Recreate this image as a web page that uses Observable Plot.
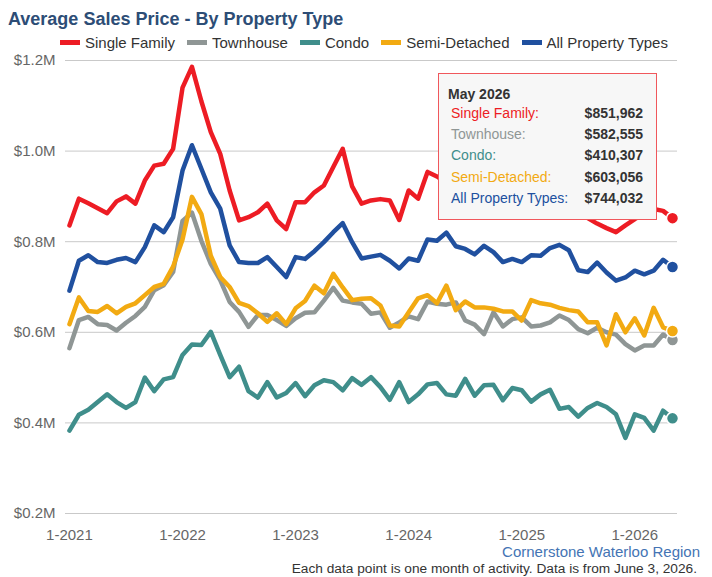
<!DOCTYPE html>
<html>
<head>
<meta charset="utf-8">
<script src="https://cdn.jsdelivr.net/npm/d3@7"></script>
<script src="https://cdn.jsdelivr.net/npm/@observablehq/plot@0.6"></script>
<style>
  body { margin: 0; background: #fff; font-family: "Liberation Sans", Arial, sans-serif; }
  #wrap { position: relative; width: 712px; height: 577px; overflow: hidden; }
  #title { position: absolute; left: 8px; top: 9px; font-size: 18px; font-weight: bold; color: #2d4d76; white-space: nowrap; }
  #legend { position: absolute; left: 60px; top: 34px; display: flex; align-items: center; font-size: 15px; color: #333; white-space: nowrap; }
  .item { display: flex; align-items: center; margin-right: 12px; }
  .sw { width: 20px; height: 5px; margin-right: 5px; }
  #chart { position: absolute; left: 0; top: 0; }
  #tip { position: absolute; left: 438px; top: 73px; width: 217px; height: 145px; border: 1px solid #f0575c; background: #f7f7f7; font-size: 14px; }
  .tl { position: absolute; line-height: 21px; white-space: nowrap; }
  #cap1 { position: absolute; right: 12px; top: 544px; font-size: 15px; line-height: 15px; color: #4474b4; white-space: nowrap; }
  #cap2 { position: absolute; right: 15px; top: 562px; font-size: 13.7px; line-height: 14px; color: #333; white-space: nowrap; }
</style>
</head>
<body>
<div id="wrap">
  <div id="chart"></div>
  <div id="title">Average Sales Price - By Property Type</div>
  <div id="legend"></div>
  <div id="tip"></div>
  <div id="cap1">Cornerstone Waterloo Region</div>
  <div id="cap2">Each data point is one month of activity. Data is from June 3, 2026.</div>
</div>
<script>
// ---- data (values in $ millions, monthly from Jan 2021 to May 2026) ----
const seriesNames = ["Single Family", "Townhouse", "Condo", "Semi-Detached", "All Property Types"];
const seriesColors = ["#ed1c24", "#8f9695", "#3f8e8b", "#f2aa12", "#20509f"];

const singleFamily = [
  0.836, 0.895, 0.885, 0.874, 0.863, 0.889, 0.900, 0.884, 0.935, 0.968, 0.972, 1.005, 1.140,
  1.186, 1.110, 1.042, 0.994, 0.913, 0.847, 0.854, 0.865, 0.884, 0.847, 0.828, 0.887, 0.887,
  0.909, 0.924, 0.965, 1.005, 0.922, 0.884, 0.891, 0.894, 0.891, 0.848, 0.913, 0.895, 0.954,
  0.944, 0.930, 0.950, 0.940, 0.920, 0.930, 0.910, 0.920, 0.900, 0.910, 0.920, 0.930, 0.910,
  0.900, 0.890, 0.870, 0.852, 0.840, 0.830, 0.821, 0.836, 0.850, 0.862, 0.872, 0.868, 0.852
];
const townhouse = [
  0.565, 0.627, 0.634, 0.618, 0.616, 0.604, 0.621, 0.636, 0.656, 0.693, 0.704, 0.733, 0.846,
  0.864, 0.802, 0.751, 0.715, 0.667, 0.645, 0.612, 0.638, 0.638, 0.627, 0.614, 0.631, 0.643,
  0.644, 0.670, 0.698, 0.670, 0.666, 0.663, 0.641, 0.644, 0.610, 0.622, 0.635, 0.629, 0.668,
  0.663, 0.661, 0.666, 0.626, 0.617, 0.596, 0.644, 0.613, 0.629, 0.633, 0.613, 0.615, 0.622,
  0.637, 0.627, 0.607, 0.598, 0.610, 0.600, 0.595, 0.574, 0.560, 0.571, 0.571, 0.595, 0.583
];
const condo = [
  0.383, 0.418, 0.429, 0.446, 0.463, 0.446, 0.433, 0.446, 0.500, 0.470, 0.496, 0.501, 0.550,
  0.573, 0.572, 0.601, 0.550, 0.501, 0.524, 0.470, 0.456, 0.490, 0.456, 0.466, 0.488, 0.459,
  0.483, 0.494, 0.490, 0.472, 0.499, 0.484, 0.501, 0.479, 0.451, 0.490, 0.446, 0.463, 0.485,
  0.488, 0.463, 0.460, 0.497, 0.460, 0.483, 0.484, 0.450, 0.477, 0.472, 0.447, 0.463, 0.473,
  0.431, 0.435, 0.414, 0.433, 0.444, 0.435, 0.419, 0.367, 0.419, 0.411, 0.383, 0.427, 0.410
];
const semiDetached = [
  0.618, 0.677, 0.647, 0.645, 0.658, 0.642, 0.656, 0.664, 0.682, 0.700, 0.707, 0.745, 0.805,
  0.899, 0.861, 0.769, 0.722, 0.700, 0.665, 0.658, 0.642, 0.623, 0.642, 0.618, 0.653, 0.669,
  0.703, 0.686, 0.729, 0.699, 0.671, 0.674, 0.675, 0.659, 0.615, 0.613, 0.644, 0.675, 0.682,
  0.664, 0.703, 0.649, 0.668, 0.655, 0.655, 0.652, 0.646, 0.646, 0.626, 0.671, 0.664, 0.661,
  0.654, 0.649, 0.646, 0.622, 0.622, 0.571, 0.640, 0.600, 0.631, 0.593, 0.654, 0.611, 0.603
];
const allTypes = [
  0.692, 0.758, 0.770, 0.755, 0.753, 0.760, 0.764, 0.755, 0.788, 0.836, 0.821, 0.854, 0.957,
  1.013, 0.961, 0.909, 0.873, 0.792, 0.755, 0.753, 0.753, 0.766, 0.744, 0.722, 0.766, 0.762,
  0.779, 0.799, 0.821, 0.841, 0.799, 0.763, 0.767, 0.771, 0.758, 0.741, 0.763, 0.758, 0.805,
  0.802, 0.820, 0.790, 0.784, 0.772, 0.791, 0.777, 0.755, 0.762, 0.755, 0.770, 0.769, 0.786,
  0.793, 0.781, 0.737, 0.733, 0.754, 0.732, 0.714, 0.721, 0.736, 0.728, 0.736, 0.760, 0.744
];
const seriesValues = [singleFamily, townhouse, condo, semiDetached, allTypes];

const xTickIndex = [0, 12, 24, 36, 48, 60];
const xTickLabels = ["1-2021", "1-2022", "1-2023", "1-2024", "1-2025", "1-2026"];
const yTicks = [0.2, 0.4, 0.6, 0.8, 1.0, 1.2];

const tipTitle = "May 2026";
const tipValues = ["$851,962", "$582,555", "$410,307", "$603,056", "$744,032"];

// ---- build table ----
const rows = [];
seriesValues.forEach((vals, s) => vals.forEach((v, i) => rows.push({month: i, series: seriesNames[s], value: v})));
const lastRows = seriesValues.map((vals, s) => ({month: vals.length - 1, series: seriesNames[s], value: vals[vals.length - 1]}));
const font = '"Liberation Sans", Arial, sans-serif';

const chart = Plot.plot({
  width: 712,
  height: 577,
  marginTop: 60,
  marginBottom: 64,
  marginLeft: 65,
  marginRight: 35,
  style: {fontFamily: font, fontSize: "15px", color: "#666", background: "transparent"},
  x: {domain: [-0.42, 64.53]},
  y: {domain: [0.2, 1.2]},
  color: {domain: seriesNames, range: seriesColors},
  marks: [
    Plot.gridY(yTicks, {stroke: "#c9c9c9", strokeOpacity: 1, strokeWidth: 1}),
    Plot.axisY(yTicks, {tickSize: 0, tickPadding: 10, tickFormat: d => "$" + d.toFixed(1) + "M", label: null, fill: "#666"}),
    Plot.axisX(xTickIndex, {tickSize: 0, tickPadding: 16, tickFormat: (d, i) => xTickLabels[i], label: null, fill: "#666"}),
    Plot.line(rows, {x: "month", y: "value", z: "series", stroke: "series", strokeWidth: 4.5, strokeLinejoin: "round", strokeLinecap: "round"}),
    Plot.dot(lastRows, {x: "month", y: "value", fill: "series", r: 6, stroke: "white", strokeWidth: 1.5})
  ]
});
document.getElementById("chart").appendChild(chart);

// ---- legend ----
const legend = document.getElementById("legend");
seriesNames.forEach((n, i) => {
  const it = document.createElement("div");
  it.className = "item";
  it.innerHTML = `<div class="sw" style="background:${seriesColors[i]}"></div><span>${n}</span>`;
  legend.appendChild(it);
});

// ---- tooltip ----
const tip = document.getElementById("tip");
const h = document.createElement("div");
h.className = "tl";
h.style.cssText = "left:9px;top:10px;font-weight:bold;color:#333;";
h.textContent = tipTitle;
tip.appendChild(h);
seriesNames.forEach((n, i) => {
  const top = 29 + i * 21.2;
  const l = document.createElement("div");
  l.className = "tl";
  l.style.cssText = `left:12px;top:${top}px;color:${seriesColors[i]};`;
  l.textContent = n + ":";
  tip.appendChild(l);
  const v = document.createElement("div");
  v.className = "tl";
  v.style.cssText = `right:13px;top:${top}px;color:#333;font-weight:bold;`;
  v.textContent = tipValues[i];
  tip.appendChild(v);
});
</script>
</body>
</html>
